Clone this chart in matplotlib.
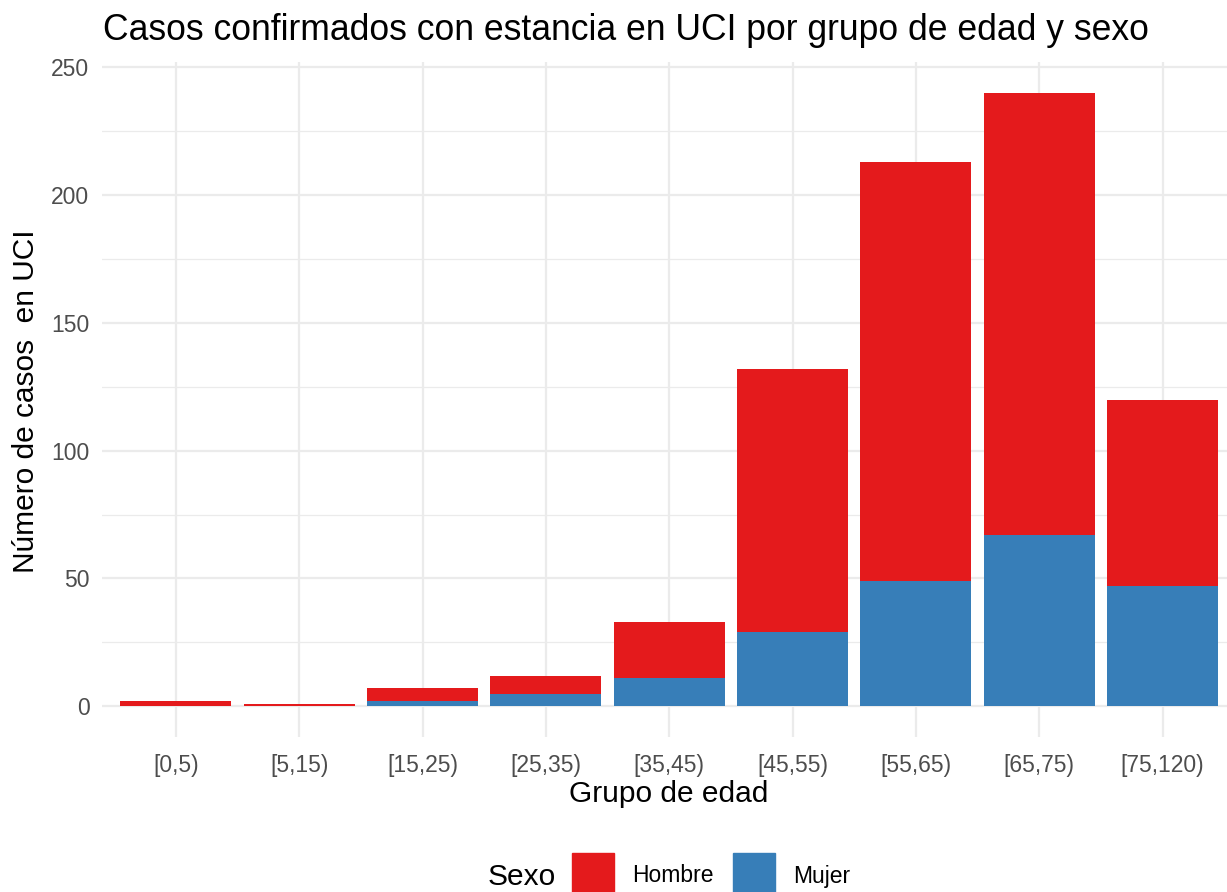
import matplotlib
matplotlib.use("Agg")
import matplotlib.pyplot as plt
from matplotlib.patches import Rectangle
import numpy as np

plt.rcParams['font.family'] = ['Liberation Sans', 'DejaVu Sans']

grupos = ['[0,5)', '[5,15)', '[15,25)', '[25,35)', '[35,45)',
          '[45,55)', '[55,65)', '[65,75)', '[75,120)']
mujer = [0, 0, 2, 5, 11, 29, 49, 67, 47]
hombre = [2, 1, 5, 7, 22, 103, 164, 173, 73]

RED = '#E41A1C'
BLUE = '#377EB8'
GRID = '#EBEBEB'

W, H = 1227, 892
fig = plt.figure(figsize=(W / 100, H / 100), dpi=100)

# panel in pixel units -> figure fraction
left, right, top, bottom = 102, 1236.5, 62, 737
ax = fig.add_axes([left / W, 1 - bottom / H, (right - left) / W, (bottom - top) / H])

x = np.arange(len(grupos))
ax.bar(x, mujer, width=0.9, color=BLUE, zorder=3)
ax.bar(x, hombre, width=0.9, bottom=mujer, color=RED, zorder=3)

total = np.array(mujer) + np.array(hombre)
ymax = total.max()
ax.set_ylim(-0.05 * ymax, 1.05 * ymax)
ax.set_xlim(-0.6, len(grupos) - 0.4)

ax.set_yticks([0, 50, 100, 150, 200, 250])
ax.set_yticks([25, 75, 125, 175, 225], minor=True)
ax.set_xticks(x)
ax.set_xticklabels(grupos)

ax.grid(True, which='major', color=GRID, linewidth=1.6, zorder=0)
ax.grid(True, which='minor', axis='y', color=GRID, linewidth=0.9, zorder=0)
for s in ax.spines.values():
    s.set_visible(False)
ax.tick_params(which='both', length=0)
ax.tick_params(axis='y', labelsize=16.5, labelcolor='#4D4D4D', pad=9)
ax.tick_params(axis='x', labelsize=16.5, labelcolor='#4D4D4D', pad=12)

fig.text(103 / W, 1 - 31 / H, 'Casos confirmados con estancia en UCI por grupo de edad y sexo',
         fontsize=25.6, ha='left', va='center')
fig.text(669 / W, 1 - 794 / H, 'Grupo de edad', fontsize=21.5, ha='center', va='center')
fig.text(26 / W, 1 - 401 / H, 'Número de casos  en UCI', fontsize=21.5,
         ha='center', va='center', rotation=90)

# legend at the bottom, ggplot style
fig.text(488 / W, 1 - 877 / H, 'Sexo', fontsize=21.5, ha='left', va='center')
for x0, col, lab in [(572, RED, 'Hombre'), (733, BLUE, 'Mujer')]:
    fig.add_artist(Rectangle((x0 / W, 1 - 895 / H), 42 / W, 42 / H,
                             transform=fig.transFigure, color=col))
    fig.text((x0 + 60) / W, 1 - 876 / H, lab, fontsize=16.5, ha='left', va='center')

fig.savefig('out.png', dpi=100)
